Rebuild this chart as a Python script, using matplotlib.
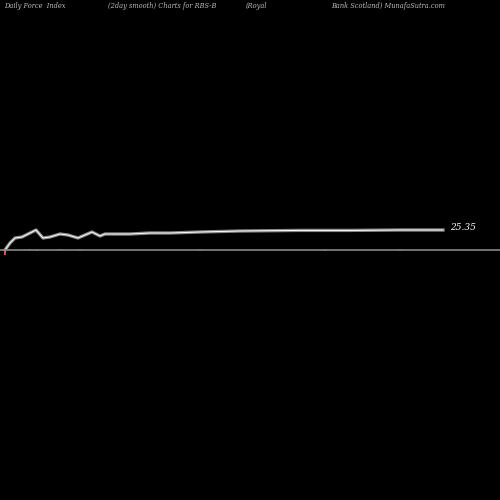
import matplotlib
matplotlib.use("Agg")
import matplotlib.pyplot as plt

xs = [5,10,15,22,30,36,43,50,60,68,78,92,100,105,130,150,170,200,240,300,350,400,443]
prices = [24.35,24.7,24.95,25.0,25.2,25.35,24.95,25.0,25.15,25.1,24.95,25.25,25.05,25.15,25.15,25.2,25.2,25.25,25.3,25.33,25.33,25.35,25.35]
fi_x = [5,30,37,60,80,100,150,200,240,300,325,400,420]
fi_v = [-1.0,0.15,-0.1,0.15,-0.1,0.1,0.1,-0.1,0.1,0.1,-0.15,-0.1,0.1]

def py(p):  # price -> pixel y
    return 230 + (25.35 - p) / 0.05

fig = plt.figure(figsize=(5, 5), dpi=100, facecolor="black")
ax = fig.add_axes([0, 0, 1, 1])
ax.set_facecolor("black")
ax.set_xlim(0, 500)
ax.set_ylim(500, 0)
ax.axis("off")

ys = [py(p) for p in prices]
ax.plot(xs, ys, color="#888888", lw=2.4)
ax.plot(xs, ys, color="white", lw=0.7)
ax.axhline(250, color="#888888", lw=1.2)
for x, v in zip(fi_x, fi_v):
    c = "#ff4040" if v < 0 else "#00cc00"
    ax.bar(x, v * -5 if v < 0 else -v * 5, bottom=250, width=2, color=c)
ax.text(450, 228, "25.35", color="white", fontsize=6.5, family="DejaVu Serif", style="italic", va="center")
kw = dict(color="#bbbbbb", fontsize=4.8, family="DejaVu Serif", style="italic", va="center")
ax.text(4, 6, "Daily Force  Index", **kw)
ax.text(108, 6, "(2day smooth) Charts for RBS-B", **kw)
ax.text(246, 6, "(Royal", **kw)
ax.text(445, 6, "Bank Scotland) MunafaSutra.com", ha="right", **kw)
fig.savefig("out.png", facecolor="black")
